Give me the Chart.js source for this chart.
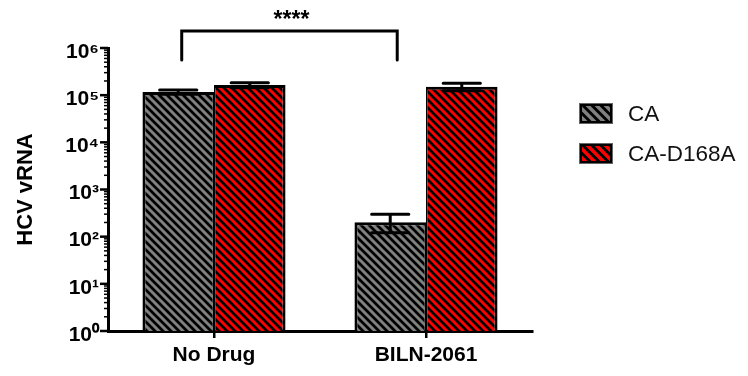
<!DOCTYPE html>
<html><head><meta charset="utf-8">
<script src="https://cdn.jsdelivr.net/npm/chart.js@4"></script>
<style>html,body{margin:0;padding:0;background:#fff;}canvas{display:block}</style>
</head><body>
<canvas id="c" width="748" height="376"></canvas>
<script>
const categories = ['No Drug', 'BILN-2061'];
const seriesNames = ['CA', 'CA-D168A'];
const caValues = [117000, 201];
const caErrHigh = [129000, 298];
const caErrLow = [105000, 121];
const d168aValues = [164000, 151000];
const d168aErrHigh = [184000, 178000];
const d168aErrLow = [144000, 124000];
const yTickValues = [1, 10, 100, 1000, 10000, 100000, 1000000];
const yTickLabels = ['10⁰', '10¹', '10²', '10³', '10⁴', '10⁵', '10⁶'];
const sigLabel = '****';
const seriesColors = ['#808080', '#ff0000'];

const FONT = 'Liberation Sans, Arial, Helvetica, sans-serif';
const canvas = document.getElementById('c');
const ctx = canvas.getContext('2d');

function hatch(color) {
  const c = document.createElement('canvas'); c.width = 8; c.height = 8;
  const x = c.getContext('2d');
  x.fillStyle = color; x.fillRect(0, 0, 8, 8);
  x.strokeStyle = '#000'; x.lineWidth = 2.7; x.beginPath();
  for (const o of [-8, 0, 8]) { x.moveTo(-1, o - 1); x.lineTo(9, o + 9); }
  x.stroke();
  return ctx.createPattern(c, 'repeat');
}

const errPlugin = {
  id: 'err',
  afterDatasetsDraw(chart) {
    const c = chart.ctx, y = chart.scales.y;
    chart.data.datasets.forEach((ds, di) => {
      const meta = chart.getDatasetMeta(di);
      meta.data.forEach((bar, i) => {
        const x = bar.x;
        const hi = y.getPixelForValue(ds.errHigh[i]);
        const lo = y.getPixelForValue(ds.errLow[i]);
        const half = bar.width * 0.26;
        c.save();
        c.strokeStyle = '#000'; c.lineWidth = 3; c.lineCap = 'round';
        c.beginPath();
        c.moveTo(x, hi); c.lineTo(x, lo);
        c.moveTo(x - half, hi); c.lineTo(x + half, hi);
        c.moveTo(x - half, lo); c.lineTo(x + half, lo);
        c.stroke();
        c.restore();
      });
    });
  }
};

const axisPlugin = {
  id: 'axisDeco',
  afterDraw(chart) {
    const c = chart.ctx, y = chart.scales.y, area = chart.chartArea;
    c.save();
    c.strokeStyle = '#000';
    for (let e = 0; e <= 6; e++) {
      for (let m = 1; m <= 9; m++) {
        const v = m * Math.pow(10, e);
        if (v > y.max) break;
        const p = y.getPixelForValue(v);
        const major = m === 1;
        c.lineWidth = major ? 2.5 : 1.5;
        c.beginPath();
        c.moveTo(area.left, p);
        c.lineTo(area.left - (major ? 8 : 4), p);
        c.stroke();
      }
    }
    const m0 = chart.getDatasetMeta(0).data;
    const x1 = m0[0].x + 3.5, x2 = m0[1].x + 7;
    const top = area.top - 17, leg = area.top + 12;
    c.lineWidth = 3; c.lineCap = 'round'; c.lineJoin = 'miter';
    c.beginPath();
    c.moveTo(x1, leg); c.lineTo(x1, top); c.lineTo(x2, top); c.lineTo(x2, leg);
    c.stroke();
    c.fillStyle = '#000';
    c.font = 'bold 23px ' + FONT;
    c.textAlign = 'center'; c.textBaseline = 'middle';
    c.fillText(sigLabel, (x1 + x2) / 2 + 2, top - 10);
    chart.data.datasets.forEach((ds, i) => {
      const bx = area.right + 47, by = area.top + 55 + i * 40, bw = 34, bh = 21;
      c.save();
      c.fillStyle = '#000'; c.fillRect(bx, by, bw, bh);
      c.beginPath(); c.rect(bx + 3, by + 3, bw - 6, bh - 6); c.clip();
      c.strokeStyle = seriesColors[i]; c.lineWidth = 3.5; c.lineCap = 'butt';
      c.beginPath();
      for (let k = -30; k < 40; k += 9) { c.moveTo(bx + k, by); c.lineTo(bx + k + bh, by + bh); }
      c.stroke();
      c.restore();
      c.strokeStyle = '#666'; c.lineWidth = 1;
      c.strokeRect(bx + 0.5, by + 0.5, bw - 1, bh - 1);
      c.fillStyle = '#111';
      c.font = '22.5px ' + FONT;
      c.textAlign = 'left'; c.textBaseline = 'middle';
      c.fillText(ds.label, bx + 49, by + bh / 2 + 1);
    });
    c.restore();
  }
};

new Chart(ctx, {
  type: 'bar',
  data: {
    labels: categories,
    datasets: [
      { label: seriesNames[0], data: caValues, errHigh: caErrHigh, errLow: caErrLow,
        backgroundColor: hatch(seriesColors[0]), borderColor: '#000',
        borderWidth: { left: 3, top: 3, right: 1.5, bottom: 0 }, borderSkipped: 'start' },
      { label: seriesNames[1], data: d168aValues, errHigh: d168aErrHigh, errLow: d168aErrLow,
        backgroundColor: hatch(seriesColors[1]), borderColor: '#000',
        borderWidth: { left: 1.5, top: 3, right: 3, bottom: 0 }, borderSkipped: 'start' }
    ]
  },
  options: {
    responsive: false,
    animation: false,
    devicePixelRatio: 1,
    layout: { padding: { left: 0, top: 48, right: 216, bottom: 0 } },
    categoryPercentage: 0.675,
    barPercentage: 1,
    plugins: { legend: { display: false }, tooltip: { enabled: false } },
    scales: {
      x: {
        grid: { display: true, drawOnChartArea: false, drawTicks: true, tickLength: 7, offset: false, color: '#000', lineWidth: 2.5 },
        border: { display: true, color: '#000', width: 3 },
        ticks: { color: '#000', font: { family: FONT, size: 21, weight: 'bold' }, padding: 5, maxRotation: 0 },
        afterFit(s) { s.height = 45; }
      },
      y: {
        type: 'logarithmic',
        min: 1, max: 1000000,
        grid: { display: false, drawTicks: false },
        border: { display: true, color: '#000', width: 3 },
        afterBuildTicks(s) { s.ticks = yTickValues.map(v => ({ value: v, major: true })); },
        ticks: {
          color: '#000', padding: 9, labelOffset: 4,
          font: { family: FONT, size: 21, weight: 'bold' },
          callback: (v) => { const i = yTickValues.indexOf(v); return i >= 0 ? yTickLabels[i] : ''; }
        },
        title: { display: true, text: 'HCV vRNA', color: '#000', font: { family: FONT, size: 22, weight: 'bold' }, padding: { top: 13, bottom: 0 } },
        afterFit(s) { s.width = 108; }
      }
    }
  },
  plugins: [errPlugin, axisPlugin]
});
</script>
</body></html>
